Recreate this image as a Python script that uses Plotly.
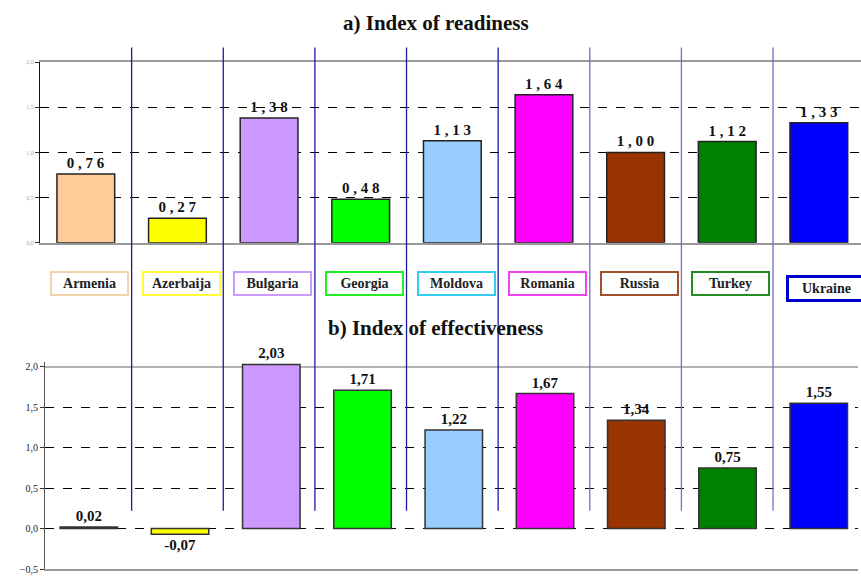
import plotly.graph_objects as go

countries = ["Armenia", "Azerbaija", "Bulgaria", "Georgia", "Moldova",
             "Romania", "Russia", "Turkey", "Ukraine"]
readiness = [0.76, 0.27, 1.38, 0.48, 1.13, 1.64, 1.00, 1.12, 1.33]
effectiveness = [0.02, -0.07, 2.03, 1.71, 1.22, 1.67, 1.34, 0.75, 1.55]
bar_colors = ["#FFCC99", "#FFFF00", "#CC99FF", "#00FF00", "#99CCFF",
              "#FF00FF", "#993300", "#008000", "#0000FF"]
box_colors = ["#F3D3A8", "#FFFF33", "#CC99FF", "#22EE22", "#33CCEE",
              "#EE44EE", "#A0522D", "#228B22", "#0000CC"]
y_ticks_top = [0, 0.5, 1.0, 1.5, 2.0]
y_grid_top = [0.5, 1.0, 1.5]
y_ticks_bot = [-0.5, 0, 0.5, 1.0, 1.5, 2.0]
y_grid_bot = [0, 0.5, 1.0, 1.5]

SERIF = "Liberation Serif, Times New Roman, serif"


def spaced(v):
    s = f"{v:.2f}".replace(".", ",")
    return " ".join(s)


def plain(v):
    return f"{v:.2f}".replace(".", ",")


fig = go.Figure()
fig.add_trace(go.Bar(
    x=countries, y=readiness, xaxis="x", yaxis="y",
    marker=dict(color=bar_colors, line=dict(color="#222222", width=1.5)),
    width=0.63,
    text=[f"<b>{spaced(v)}</b>" for v in readiness],
    textposition="outside", cliponaxis=False,
    textfont=dict(family=SERIF, size=15, color="#111111"),
    showlegend=False, hoverinfo="skip",
))
fig.add_trace(go.Bar(
    x=countries, y=effectiveness, xaxis="x2", yaxis="y2",
    marker=dict(color=bar_colors, line=dict(color="#333333", width=1.5)),
    width=0.63,
    text=[f"<b>{plain(v)}</b>" for v in effectiveness],
    textposition="outside", cliponaxis=False,
    textfont=dict(family=SERIF, size=15, color="#111111"),
    showlegend=False, hoverinfo="skip",
))

W, H = 861, 578
# bottom panel: 2.0 at y=369 px, -0.5 at y=574 px -> 82 px / unit
b_top_val = 2.06
b_top_px = 369 - (b_top_val - 2.0) * 82

fig.update_layout(
    width=W, height=H,
    margin=dict(l=0, r=0, t=0, b=0),
    paper_bgcolor="white", plot_bgcolor="white",
    separators=", ",
    xaxis=dict(domain=[40 / W, 1.0], range=[-0.5, 8.46], anchor="y",
               showticklabels=False, ticks="", showgrid=False,
               showline=True, linecolor="#999999", linewidth=1.5,
               mirror=True, fixedrange=True),
    yaxis=dict(domain=[1 - 243 / H, 1 - 60 / H], range=[0, 2.0], anchor="x",
               tickvals=y_ticks_top, tickformat=".1f",
               tickfont=dict(family=SERIF, size=6, color="#aaaaaa"),
               ticks="outside", ticklen=4, tickcolor="#333333",
               showline=True, linecolor="#111111", linewidth=1.2,
               showgrid=False, zeroline=False, fixedrange=True,
               minor=dict(tickmode="array", tickvals=y_grid_top,
                          showgrid=True, gridcolor="#000000",
                          griddash="dash", gridwidth=1, ticks="")),
    xaxis2=dict(domain=[45 / W, 858 / W], range=[-0.48, 8.43], anchor="y2",
                showticklabels=False, ticks="", showgrid=False,
                showline=True, linecolor="#999999", linewidth=1.5,
                mirror=False, fixedrange=True),
    yaxis2=dict(domain=[1 - 574 / H, 1 - b_top_px / H],
                range=[-0.5, b_top_val], anchor="x2",
                tickvals=y_ticks_bot, tickformat=".1f",
                tickfont=dict(family=SERIF, size=10, color="#222222"),
                ticks="outside", ticklen=4, tickcolor="#333333",
                showline=True, linecolor="#555555", linewidth=1.2,
                showgrid=False, zeroline=False, fixedrange=True,
                minor=dict(tickmode="array", tickvals=y_grid_bot,
                           showgrid=True, gridcolor="#000000",
                           griddash="dash", gridwidth=1, ticks="")),
)

shapes = []
# solid top border of the lower panel at 2,0
shapes.append(dict(type="line", xref="x2 domain", yref="y2",
                   x0=0, x1=1, y0=2.0, y1=2.0,
                   line=dict(color="#999999", width=1.5), layer="below"))
# vertical separators between countries
for i in range(len(countries) - 1):
    col = "#1a1aa0" if i < 5 else "#7070c8"
    shapes.append(dict(type="line", xref="x", yref="paper",
                       x0=i + 0.5, x1=i + 0.5,
                       y0=1 - 515 / H, y1=1 - 45 / H,
                       line=dict(color=col, width=1.3), layer="above"))
fig.update_layout(shapes=shapes)

annotations = [
    dict(text="<b>a) Index of readiness</b>", xref="paper", yref="paper",
         x=436 / W, y=1 - 20 / H, showarrow=False, yanchor="middle",
         xanchor="center",
         font=dict(family=SERIF, size=21, color="#111111")),
    dict(text="<b>b) Index of effectiveness</b>", xref="paper", yref="paper",
         x=436 / W, y=1 - 330 / H, showarrow=False, yanchor="middle",
         xanchor="center",
         font=dict(family=SERIF, size=21, color="#111111")),
]
for i, (c, bc) in enumerate(zip(countries, box_colors)):
    last = (i == len(countries) - 1)
    annotations.append(dict(
        text=f"<b>{c}</b>", xref="x", yref="paper",
        x=i + (0.08 if last else 0.04), y=1 - (289 if last else 284) / H,
        showarrow=False, width=71, height=17, yanchor="middle",
        bordercolor=bc, borderwidth=3 if last else 2, borderpad=2,
        bgcolor="white",
        font=dict(family=SERIF, size=14, color="#222222")))
fig.update_layout(annotations=annotations)

fig.write_html("out.html")
